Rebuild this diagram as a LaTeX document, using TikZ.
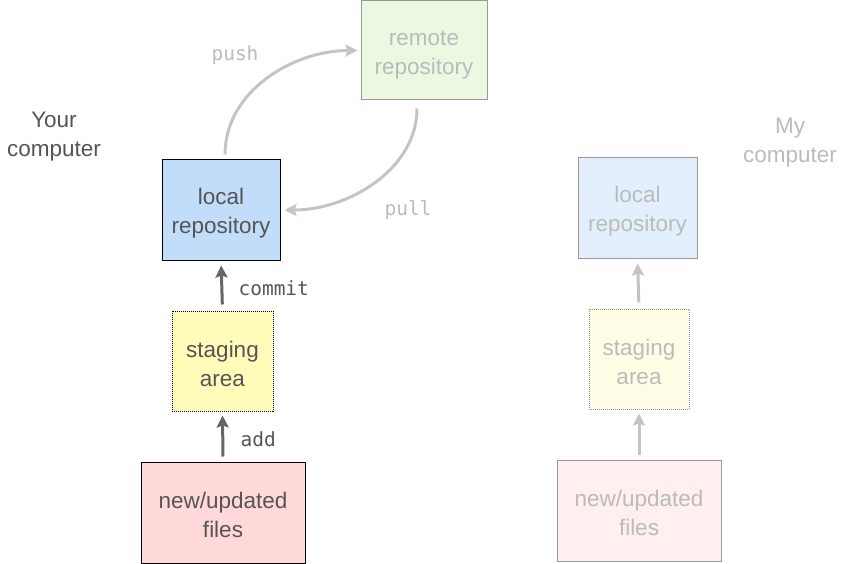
\documentclass[tikz,border=0pt]{standalone}
\usepackage{fontspec}
\setmainfont{Liberation Sans}
\newfontfamily\codefont{DejaVu Sans Mono}
\usetikzlibrary{arrows.meta}
\definecolor{textdark}{HTML}{555555}
\definecolor{textlight}{HTML}{BBBBBB}
\definecolor{arrowdark}{HTML}{666666}
\definecolor{arrowlight}{HTML}{C4C4C4}
\definecolor{bluefill}{HTML}{C2DDF9}
\definecolor{yellowfill}{HTML}{FFFBB8}
\definecolor{redfill}{HTML}{FFD9D9}
\definecolor{greenfill}{HTML}{EBF9E3}
\definecolor{bluefade}{HTML}{E3EFFC}
\definecolor{yellowfade}{HTML}{FFFDE6}
\definecolor{redfade}{HTML}{FFEFEF}
\newcommand{\lift}{\rule{0pt}{22pt}}
\begin{document}
\begin{tikzpicture}[x=1pt,y=-1pt,
  box/.style={draw,line width=1pt,align=center,inner sep=0pt,
    font=\fontsize{22.5}{29}\selectfont,text=textdark},
  fadebox/.style={box,draw=black!40,text=textlight},
  cmd/.style={font=\codefont\fontsize{19.5}{22}\selectfont},
  tip/.style={-{Stealth[length=12pt,width=12pt,inset=2pt]},line width=3pt}]
\useasboundingbox (0,0) rectangle (845,564);
\node [box,fill=bluefill,minimum width=118,minimum height=100] (local) at (221,210) {\lift local\\repository};
\node [box,fill=yellowfill,densely dotted,minimum width=101,minimum height=100] (staging) at (222.5,361) {\lift staging\\area};
\node [box,fill=redfill,minimum width=164,minimum height=101] (files) at (223,512.5) {\lift new/updated\\files};
\node [fadebox,fill=greenfill,minimum width=126,minimum height=99] (remote) at (424,50.5) {\rule{0pt}{23pt}remote\\repository};
\node [align=center,font=\fontsize{22.5}{29}\selectfont,text=textdark] (your) at (54,137) {Your\\computer};
\draw [tip,arrowdark,shorten <=6,shorten >=5] (staging.north) -- (local.south);
\draw [tip,arrowdark,shorten <=5,shorten >=4] (files.north) -- (staging.south);
\node [cmd,text=textdark,anchor=west] (commit) at (235,288) {commit};
\node [cmd,text=textdark,anchor=west] (add) at (237,439) {add};
\draw [tip,arrowlight,shorten <=5,shorten >=3] ([xshift=4]local.north) to[out=90,in=180] (remote.west);
\draw [tip,arrowlight,shorten <=8,shorten >=4] ([xshift=-7]remote.south) to[out=-90,in=0] (local.east);
\node [cmd,text=textlight] (push) at (235,55) {push};
\node [cmd,text=textlight] (pull) at (408,210) {pull};
% my computer
\node [fadebox,fill=bluefade,minimum width=119,minimum height=100] (rlocal) at (637.5,208) {\lift local\\repository};
\node [fadebox,fill=yellowfade,densely dotted,draw=black!45,minimum width=100,minimum height=100] (rstaging) at (639,359) {\lift staging\\area};
\node [fadebox,fill=redfade,minimum width=164,minimum height=101] (rfiles) at (639,510.5) {\lift new/updated\\files};
\node [align=center,font=\fontsize{22.5}{29}\selectfont,text=textlight] (my) at (790,143) {My\\computer};
\draw [tip,arrowlight,shorten <=6,shorten >=5] (rstaging.north) -- (rlocal.south);
\draw [tip,arrowlight,shorten <=5,shorten >=4] (rfiles.north) -- (rstaging.south);
\end{tikzpicture}
\end{document}
